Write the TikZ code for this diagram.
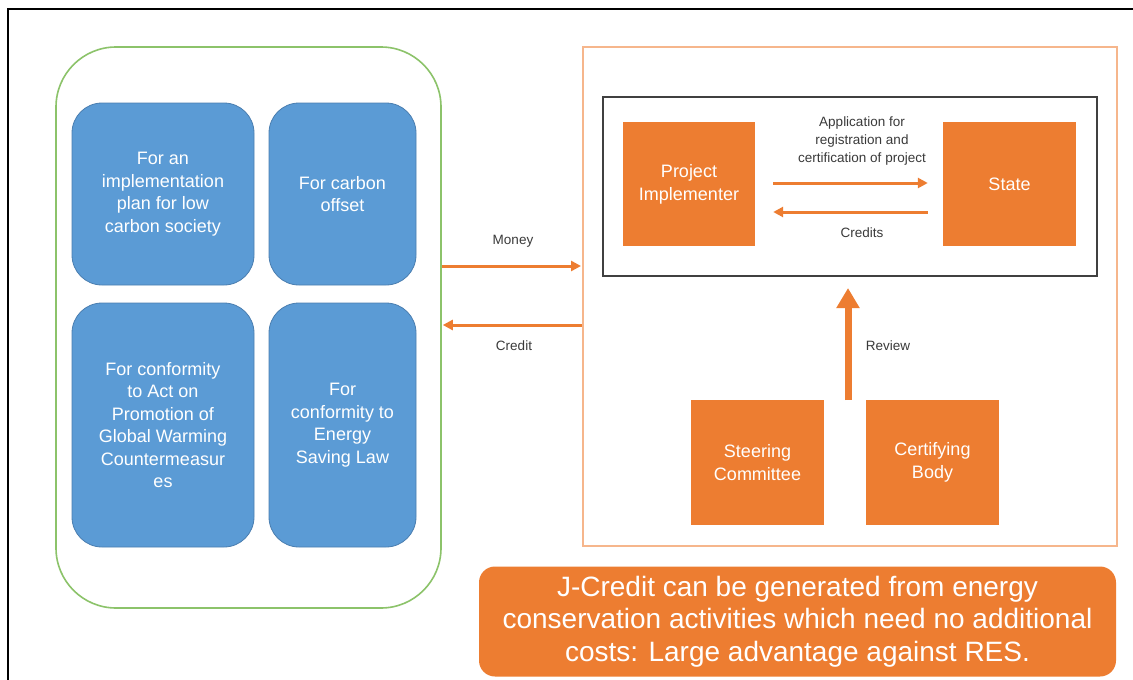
\documentclass[tikz,border=0pt]{standalone}
\usepackage{fontspec}
\setmainfont{Liberation Sans}
\usetikzlibrary{arrows.meta}
\definecolor{jorange}{HTML}{ED7D31}
\definecolor{jblue}{HTML}{5B9BD5}
\definecolor{jblueline}{HTML}{4A7EB0}
\definecolor{jgreen}{HTML}{8CC36A}
\definecolor{jpeach}{HTML}{F6B68C}
\definecolor{jlabel}{HTML}{3A3A3A}
\tikzset{
  bluebox/.style={draw=jblueline, line width=0.8pt, fill=jblue, rounded corners=30pt,
    text=white, align=center, font=\fontsize{18}{22.5}\selectfont, inner sep=2pt},
  orangebox/.style={fill=jorange, text=white, align=center,
    font=\fontsize{18}{23}\selectfont, inner sep=0pt},
  flowarrow/.style={draw=jorange, line width=3pt, -{Triangle[length=10pt,width=10pt]}},
  reviewarrow/.style={draw=jorange, line width=7pt, -{Triangle[length=20pt,width=22pt]}},
  smalllabel/.style={text=jlabel, align=center, font=\fontsize{13.5}{18}\selectfont, inner sep=0pt},
}
\begin{document}
\begin{tikzpicture}[x=1pt,y=-1pt]
\useasboundingbox (0,0) rectangle (1133,680);
\fill[white] (0,0) rectangle (1133,680);
% page frame (only top and left edges are within the page)
\draw[line width=2.5pt, black] (8,690) -- (8,9) -- (1145,9);

% left group: purposes of credit use
\node[draw=jgreen, line width=1.6pt, rounded corners=60pt, minimum width=385pt, minimum height=561pt] (users) at (248.5,327.5) {};
\node[bluebox, minimum width=182pt, minimum height=182pt] (p1) at (163,194)
  {For an\\implementation\\plan for low\\carbon society};
\node[bluebox, minimum width=147pt, minimum height=182pt] (p2) at (342.5,194)
  {For carbon\\offset};
\node[bluebox, minimum width=182pt, minimum height=244pt] (p3) at (163,425)
  {For conformity\\to Act on\\Promotion of\\Global Warming\\Countermeasur\\es};
\node[bluebox, minimum width=147pt, minimum height=244pt] (p4) at (342.5,425)
  {For\\conformity to\\Energy\\Saving Law};

% right group: the J-Credit scheme
\node[draw=jpeach, line width=2pt, minimum width=534pt, minimum height=499pt] (scheme) at (850,296.5) {};
\node[draw=black!75, line width=2pt, minimum width=494pt, minimum height=179pt] (core) at (850,186.5) {};
\node[orangebox, minimum width=132pt, minimum height=124pt] (impl) at (689,184) {Project\\Implementer};
\node[orangebox, minimum width=133pt, minimum height=124pt] (state) at (1009.5,184) {State};
\node[orangebox, minimum width=133pt, minimum height=125pt] (steer) at (757.5,462.5) {Steering\\Committee};
\node[orangebox, minimum width=133pt, minimum height=125pt] (cert) at (932.5,462.5) {Certifying\\Body};

% flows inside the core box
\draw[flowarrow, shorten <=18pt, shorten >=15pt] (impl.east |- 0,183) -- (state.west |- 0,183);
\draw[flowarrow, shorten <=15pt, shorten >=18pt] (state.west |- 0,212) -- (impl.east |- 0,212);
\node[smalllabel] (applbl) at (862,141) {Application for\\registration and\\certification of project};
\node[smalllabel] (credlbl) at (862,233) {Credits};

% review by committee and certifying body
\coordinate (rvbase) at (848,400);
\draw[reviewarrow, shorten >=11pt] (rvbase) -- (rvbase |- core.south);
\node[smalllabel] (rvlbl) at (888,346) {Review};

% money and credit exchange between the groups
\draw[flowarrow, shorten >=1pt] (users.east |- 0,266) -- (scheme.west |- 0,266);
\draw[flowarrow, shorten >=1pt] (scheme.west |- 0,325) -- (users.east |- 0,325);
\node[smalllabel] (moneylbl) at (513,241) {Money};
\node[smalllabel] (creditlbl) at (514,346) {Credit};

% summary note
\node[fill=jorange, rounded corners=16pt, minimum width=637pt, minimum height=110pt,
  text=white, align=center, font=\fontsize{28}{32.5}\selectfont, inner sep=0pt] (note) at (797.5,621.5)
  {J-Credit can be generated from energy\\conservation activities which need no additional\\costs: Large advantage against RES.};
\end{tikzpicture}
\end{document}
